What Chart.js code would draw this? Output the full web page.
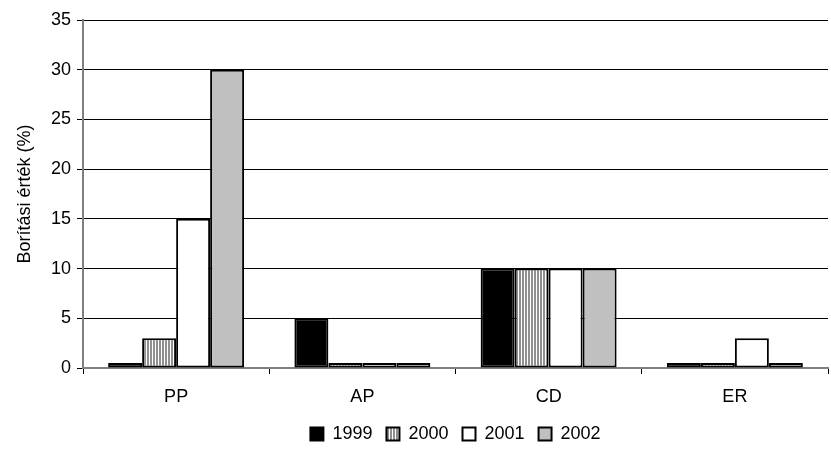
<!DOCTYPE html>
<html>
<head>
<meta charset="utf-8">
<script src="https://cdn.jsdelivr.net/npm/chart.js@4"></script>
<style>
  html, body { margin: 0; padding: 0; background: #fff; }
  #wrap { width: 831px; height: 465px; }
</style>
</head>
<body>
<div id="wrap"><canvas id="myChart" width="831" height="465"></canvas></div>
<script>
const categories = ['PP', 'AP', 'CD', 'ER'];
const years = ['1999', '2000', '2001', '2002'];
const values1999 = [0.5, 5, 10, 0.5];
const values2000 = [3, 0.5, 10, 0.5];
const values2001 = [15, 0.5, 10, 3];
const values2002 = [30, 0.5, 10, 0.5];
const yTicks = [0, 5, 10, 15, 20, 25, 30, 35];

// vertical stripe fill for 2000
function stripes() {
    const c = document.createElement('canvas');
    c.width = 3;
    c.height = 3;
    const ctx = c.getContext('2d');
    ctx.fillStyle = '#ffffff';
    ctx.fillRect(0, 0, 3, 3);
    ctx.fillStyle = '#909090';
    ctx.fillRect(0, 0, 2, 3);
    return document.getElementById('myChart').getContext('2d').createPattern(c, 'repeat');
}

const fills = ['#000000', stripes(), '#ffffff', '#c0c0c0'];
const series = [values1999, values2000, values2001, values2002];

const font = { family: '"Liberation Sans", Arial, sans-serif', size: 18 };

new Chart(document.getElementById('myChart'), {
    type: 'bar',
    data: {
        labels: categories,
        datasets: series.map((vals, i) => ({
            label: years[i],
            data: vals,
            backgroundColor: fills[i],
            borderColor: '#000000',
            borderWidth: 2,
            borderSkipped: false,
            categoryPercentage: 0.73,
            barPercentage: 1
        }))
    },
    options: {
        responsive: false,
        animation: false,
        layout: { padding: { top: 20, right: 3, bottom: 12 } },
        plugins: {
            tooltip: { enabled: false },
            legend: {
                position: 'bottom',
                fullSize: false,
                labels: {
                    color: '#000',
                    font: font,
                    boxWidth: 13,
                    boxHeight: 13,
                    padding: 14
                }
            }
        },
        scales: {
            x: {
                grid: {
                    offset: true,
                    drawOnChartArea: false,
                    color: '#000',
                    tickLength: 6
                },
                border: { color: '#808080', width: 2 },
                ticks: { color: '#000', font: font, padding: 12 },
                afterFit: scale => { scale.height = 43; }
            },
            y: {
                min: 0,
                max: 35,
                afterBuildTicks: scale => { scale.ticks = yTicks.map(v => ({ value: v })); },
                grid: {
                    color: '#000',
                    lineWidth: 1,
                    tickLength: 6,
                    drawTicks: true
                },
                border: { color: '#808080', width: 2 },
                ticks: { color: '#000', font: font, padding: 6 },
                title: {
                    display: true,
                    text: 'Borítási érték (%)',
                    color: '#000',
                    font: font,
                    padding: { top: 14, bottom: 6 }
                },
                afterFit: scale => { scale.width = 83; }
            }
        }
    }
});
</script>
</body>
</html>
